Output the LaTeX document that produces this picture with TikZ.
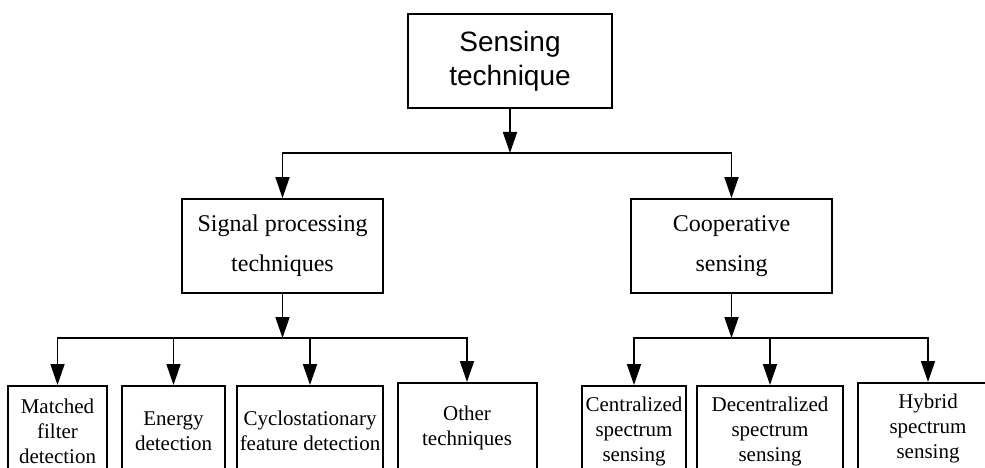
\documentclass[tikz,border=0pt]{standalone}
\usepackage{fontspec}
\setmainfont{Liberation Serif}
\newfontfamily\arialfont{Liberation Sans}
\usetikzlibrary{arrows.meta}
\tikzstyle{topbox} = [draw=black, line width=1.8pt, rectangle, align=center, minimum width=204pt, minimum height=94pt, inner sep=2pt, font=\arialfont\fontsize{28}{34}\selectfont]
\tikzstyle{midbox} = [draw=black, line width=1.8pt, rectangle, align=center, minimum width=201pt, minimum height=94pt, inner sep=2pt, font=\fontsize{24}{40}\selectfont]
\tikzstyle{leafbox} = [draw=black, line width=2pt, rectangle, align=center, anchor=north, minimum height=90pt, inner sep=1pt, font=\fontsize{21}{25}\selectfont]
\tikzstyle{arr} = [line width=1.8pt, -{Triangle[length=21pt,width=14pt]}]

\begin{document}
\begin{tikzpicture}[x=1pt,y=-1pt]
\clip (0,0) rectangle (985,468);
% top
\node [topbox] (sense) at (510,61) {Sensing\\technique};
% second level
\node [midbox] (sigproc) at (282.5,246) {Signal processing\\techniques};
\node [midbox] (coop) at (731.5,246) {Cooperative\\sensing};
% leaves
\node [leafbox, minimum width=99pt] (matched) at (57.5,385) {Matched\\filter\\detection};
\node [leafbox, minimum width=103pt] (energy) at (173.5,385) {Energy\\detection};
\node [leafbox, minimum width=146pt] (cyclo) at (310,385) {Cyclostationary\\feature detection};
\node [leafbox, minimum width=139pt] (other) at (467,382) {Other\\techniques};
\node [leafbox, minimum width=104pt] (central) at (634,385) {Centralized\\spectrum\\sensing};
\node [leafbox, minimum width=146pt] (decentral) at (770,385) {Decentralized\\spectrum\\sensing};
\node [leafbox, minimum width=140pt] (hybrid) at (928,382) {Hybrid\\spectrum\\sensing};
% buses
\coordinate (bustop) at (510,153);
\coordinate (bussig) at (282.5,338);
\coordinate (buscoop) at (731.5,338);
\draw [arr] (sense.south) -- (bustop);
\draw [arr] (bustop) -| (sigproc.north);
\draw [arr] (bustop) -| (coop.north);
\draw [arr] (sigproc.south) -- (bussig);
\foreach \leaf in {matched,energy,cyclo,other}
  \draw [arr] (bussig) -| (\leaf.north);
\draw [arr] (coop.south) -- (buscoop);
\foreach \leaf in {central,decentral,hybrid}
  \draw [arr] (buscoop) -| (\leaf.north);
\end{tikzpicture}
\end{document}
